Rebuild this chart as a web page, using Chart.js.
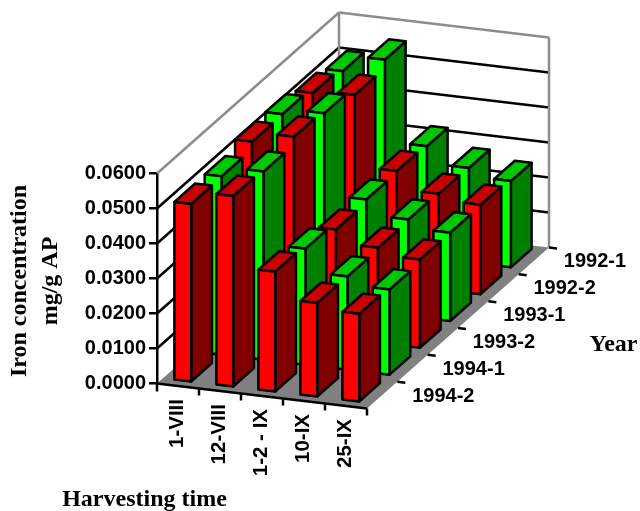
<!DOCTYPE html>
<html>
<head>
<meta charset="utf-8">
<style>
  html, body { margin: 0; padding: 0; background: #fff; }
  canvas { display: block; }
</style>
<script src="https://cdn.jsdelivr.net/npm/chart.js@4"></script>
</head>
<body>
<canvas id="ironChart" width="640" height="511"></canvas>
<script>
const harvestTimes = ['1-VIII', '12-VIII', '1-2 - IX', '10-IX', '25-IX'];
// front row first
const years = ['1994-2', '1994-1', '1993-2', '1993-1', '1992-2', '1992-1'];

const iron1994_2 = [0.0511, 0.0548, 0.0346, 0.0271, 0.0254];
const iron1994_1 = [0.0513, 0.0541, 0.0335, 0.0270, 0.0247];
const iron1993_2 = [0.0535, 0.0564, 0.0313, 0.0275, 0.0256];
const iron1993_1 = [0.0537, 0.0554, 0.0322, 0.0279, 0.0256];
const iron1992_2 = [0.0521, 0.0530, 0.0327, 0.0276, 0.0259];
const iron1992_1 = [0.0507, 0.0554, 0.0321, 0.0273, 0.0250];
const yearValues = [iron1994_2, iron1994_1, iron1993_2, iron1993_1, iron1992_2, iron1992_1];

const red = { front: '#ff0000', side: '#800000', top: '#c80000' };
const green = { front: '#00ff00', side: '#008000', top: '#00c800' };

// oblique view: how far the back of the floor sits from the front, and the tilt of the x axis
const depthX = 182;
const depthY = -161;
const tiltX = 25 / 210;
const barDepth = 0.057;

function project(chart, x, y, f) {
  return [x + f * depthX, y + (x - chart.chartArea.left) * tiltX + f * depthY];
}

function depthFrac(chart, v) {
  const z = chart.scales.z;
  return (z.getPixelForValue(v) - z.left) / z.width;
}

function poly(ctx, pts, fill, stroke, lw) {
  ctx.beginPath();
  pts.forEach((p, i) => i ? ctx.lineTo(p[0], p[1]) : ctx.moveTo(p[0], p[1]));
  ctx.closePath();
  if (fill) {
    ctx.fillStyle = fill;
    ctx.fill();
  }
  if (stroke) {
    ctx.strokeStyle = stroke;
    ctx.lineWidth = lw;
    ctx.stroke();
  }
}

function line(ctx, a, b, color, lw) {
  ctx.beginPath();
  ctx.moveTo(a[0], a[1]);
  ctx.lineTo(b[0], b[1]);
  ctx.strokeStyle = color;
  ctx.lineWidth = lw;
  ctx.stroke();
}

class Bar3DController extends Chart.BarController {
  draw() {
    const chart = this.chart;
    const ctx = chart.ctx;
    const colors = this.getDataset().colors3d;
    const mid = depthFrac(chart, this.index);
    const near = mid - barDepth;
    const far = mid + barDepth;
    ctx.save();
    ctx.lineJoin = 'round';
    this.getMeta().data.forEach(bar => {
      const l = bar.x - bar.width / 2;
      const r = bar.x + bar.width / 2;
      const tl = project(chart, l, bar.y, near);
      const tr = project(chart, r, bar.y, near);
      const bl = project(chart, l, bar.base, near);
      const br = project(chart, r, bar.base, near);
      const tlb = project(chart, l, bar.y, far);
      const trb = project(chart, r, bar.y, far);
      const brb = project(chart, r, bar.base, far);
      poly(ctx, [tr, trb, brb, br], colors.side, '#000', 2.5);
      poly(ctx, [tl, tlb, trb, tr], colors.top, '#000', 2.5);
      poly(ctx, [tl, tr, br, bl], colors.front, '#000', 2.5);
    });
    ctx.restore();
  }
}
Bar3DController.id = 'bar3d';
Bar3DController.defaults = Chart.BarController.defaults;
Bar3DController.overrides = Chart.BarController.overrides;
Chart.register(Bar3DController);

const wallsPlugin = {
  id: 'walls',
  beforeDatasetsDraw(chart) {
    const ctx = chart.ctx;
    const a = chart.chartArea;
    const ys = chart.scales.y;
    ctx.save();
    // floor
    const floor = [
      project(chart, a.left, a.bottom, 0),
      project(chart, a.right, a.bottom, 0),
      project(chart, a.right, a.bottom, 1),
      project(chart, a.left, a.bottom, 1)
    ];
    poly(ctx, floor, '#808080');
    // gridlines along the left and back walls
    ys.ticks.forEach(t => {
      if (t.value <= 0 || t.value >= ys.max) return;
      const y = ys.getPixelForValue(t.value);
      const p0 = project(chart, a.left, y, 0);
      const p1 = project(chart, a.left, y, 1);
      const p2 = project(chart, a.right, y, 1);
      line(ctx, p0, p1, '#000', 2.5);
      line(ctx, p1, p2, '#000', 2.5);
    });
    // wall outline
    const top = ys.getPixelForValue(ys.max);
    const c0 = project(chart, a.left, top, 0);
    const c1 = project(chart, a.left, top, 1);
    const c2 = project(chart, a.right, top, 1);
    const c3 = project(chart, a.right, a.bottom, 1);
    const c4 = project(chart, a.left, a.bottom, 1);
    line(ctx, c0, c1, '#8c8c8c', 2.5);
    line(ctx, c1, c2, '#8c8c8c', 2.5);
    line(ctx, c2, c3, '#8c8c8c', 2.5);
    line(ctx, c1, c4, '#8c8c8c', 2.5);
    ctx.restore();
  },
  afterDatasetsDraw(chart) {
    const ctx = chart.ctx;
    const a = chart.chartArea;
    const xs = chart.scales.x;
    ctx.save();
    // front edge and ticks
    line(ctx, project(chart, a.left, a.bottom, 0), project(chart, a.right, a.bottom, 0), '#000', 2.5);
    line(ctx, [a.left, a.bottom], [a.left, a.bottom + 8], '#000', 2.5);
    harvestTimes.forEach((h, i) => {
      const px = xs.getPixelForValue(i + 0.5);
      const p = project(chart, px, a.bottom, 0);
      line(ctx, p, [p[0], p[1] + 7], '#000', 2.5);
    });
    // depth ticks
    years.forEach((y, j) => {
      const p = project(chart, a.right, a.bottom, depthFrac(chart, j + 0.5));
      line(ctx, p, [p[0] + 8, p[1] + 1], '#000', 2.5);
    });
    // harvest labels, read upward from the front edge
    ctx.fillStyle = '#000';
    ctx.font = 'bold 20.5px "Liberation Sans"';
    ctx.textAlign = 'right';
    ctx.textBaseline = 'middle';
    harvestTimes.forEach((h, i) => {
      const p = project(chart, xs.getPixelForValue(i), a.bottom, 0);
      ctx.save();
      ctx.translate(p[0] - 1, p[1] + 13);
      ctx.rotate(-Math.PI / 2);
      ctx.fillText(h, 0, 0);
      ctx.restore();
    });
    // year labels
    ctx.font = 'bold 20px "Liberation Sans"';
    ctx.textAlign = 'left';
    years.forEach((y, j) => {
      const p = project(chart, a.right, a.bottom, depthFrac(chart, j));
      ctx.fillText(y, p[0] + 30, p[1] + 1);
    });
    // axis titles
    ctx.font = 'bold 24px "Liberation Serif"';
    ctx.textAlign = 'center';
    ctx.fillText('Harvesting time', 144.5, 500);
    ctx.fillText('Year', 613.5, 345);
    ctx.save();
    ctx.translate(20, 281);
    ctx.rotate(-Math.PI / 2);
    ctx.fillText('Iron concentration', 0, 0);
    ctx.fillText('mg/g AP', 0, 31);
    ctx.restore();
    ctx.restore();
  }
};

new Chart(document.getElementById('ironChart'), {
  type: 'bar3d',
  data: {
    labels: harvestTimes,
    datasets: years.map((y, j) => ({
      label: y,
      data: yearValues[j],
      colors3d: j % 2 === 0 ? red : green,
      backgroundColor: j % 2 === 0 ? red.front : green.front,
      xAxisID: 'x',
      yAxisID: 'y',
      grouped: false,
      categoryPercentage: 1,
      barPercentage: 0.4,
      clip: false
    }))
  },
  options: {
    responsive: false,
    animation: false,
    layout: { padding: { left: 0, top: 173.5, right: 273, bottom: 127.5 } },
    plugins: { legend: { display: false }, tooltip: { enabled: false } },
    scales: {
      x: { type: 'category', offset: true, display: false },
      z: { type: 'category', axis: 'x', labels: years, offset: true, display: false },
      y: {
        type: 'linear',
        min: 0,
        max: 0.06,
        afterFit(scale) { scale.width = 157; },
        border: { color: '#000', width: 2.5 },
        grid: { drawOnChartArea: false, color: '#000', lineWidth: 2.5, tickLength: 8 },
        ticks: {
          stepSize: 0.01,
          color: '#000',
          padding: 3,
          font: { family: '"Liberation Sans"', weight: 'bold', size: 20 },
          callback: value => value.toFixed(4)
        }
      }
    }
  },
  plugins: [wallsPlugin]
});
</script>
</body>
</html>
